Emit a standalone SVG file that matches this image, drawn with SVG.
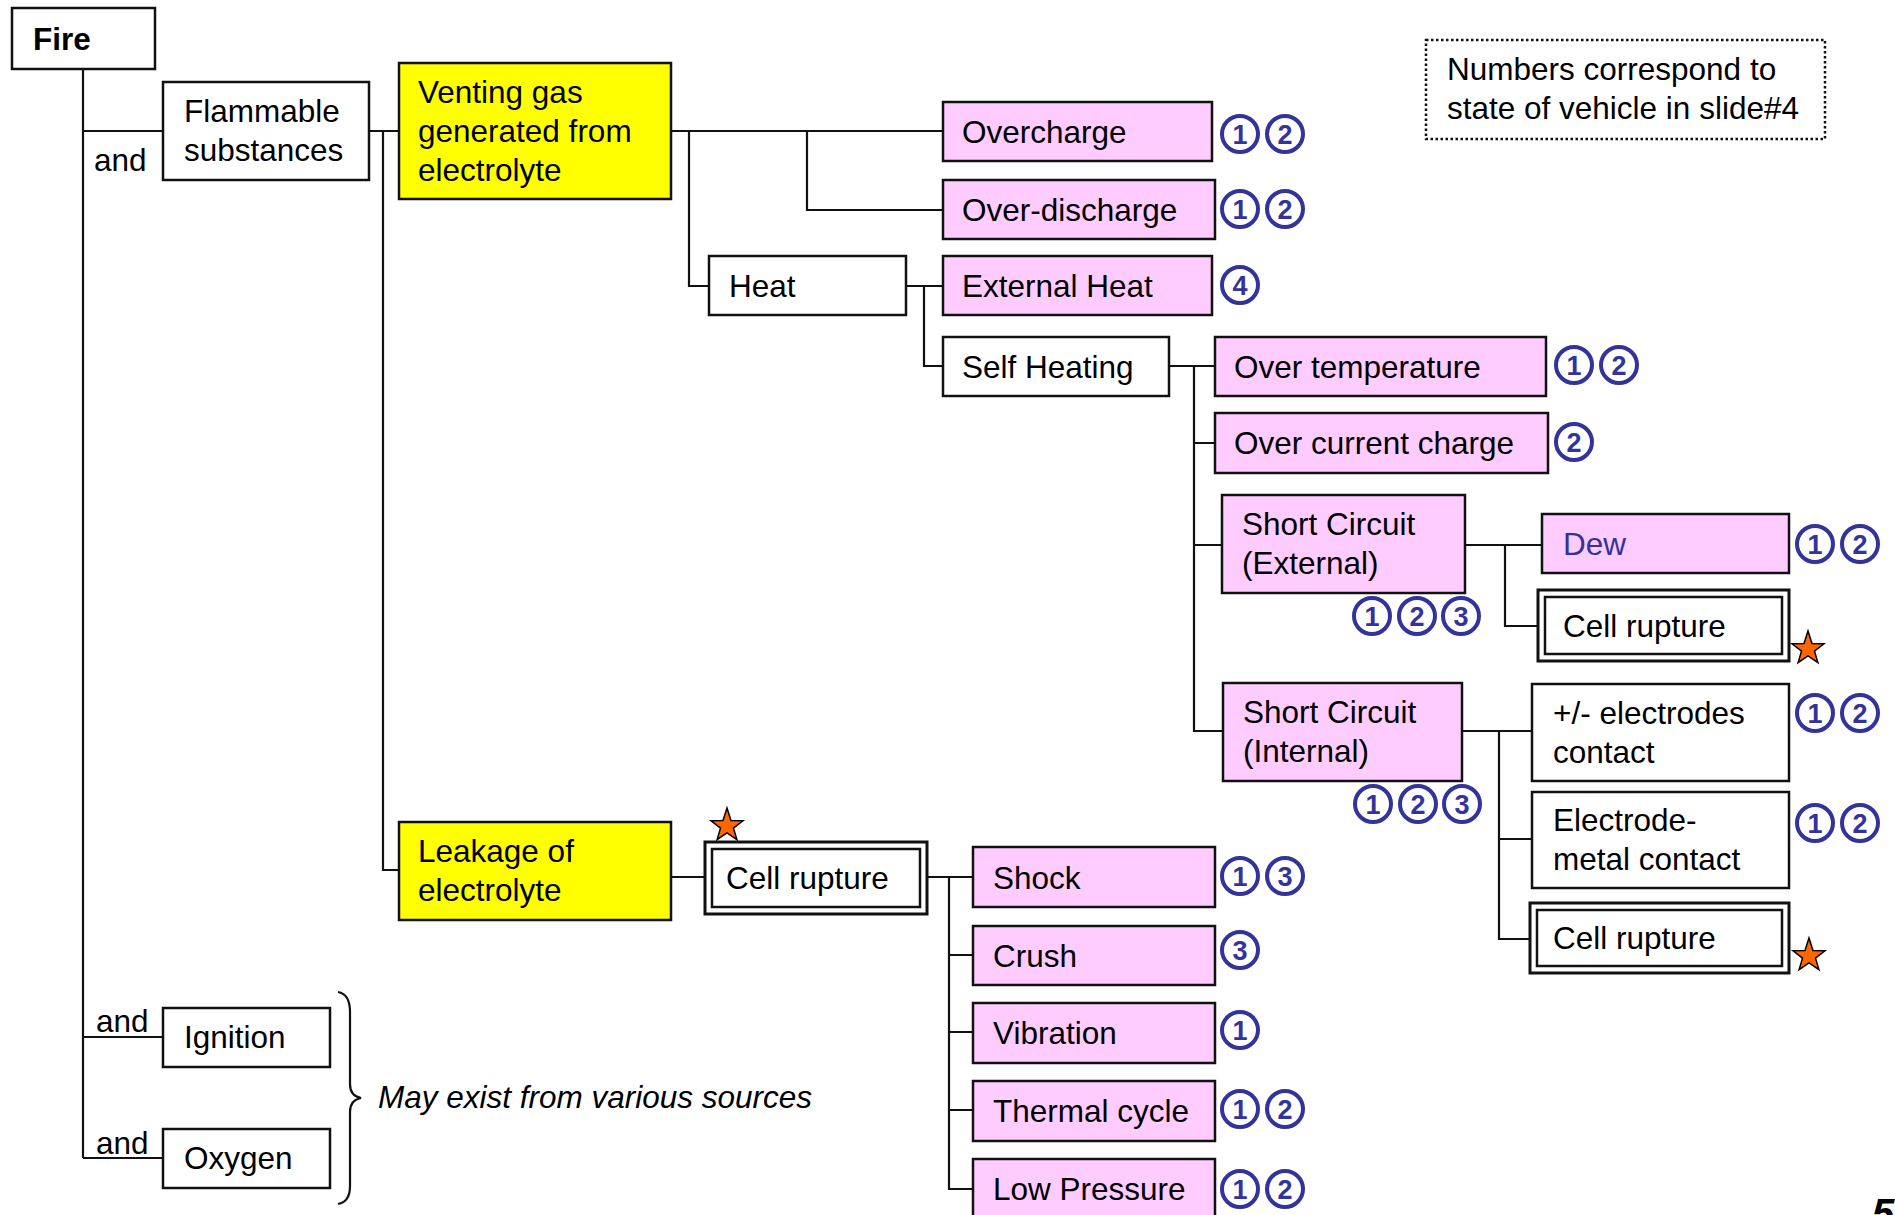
<svg xmlns="http://www.w3.org/2000/svg" xmlns:xlink="http://www.w3.org/1999/xlink" width="1895" height="1215" viewBox="0 0 1895 1215">
<style>
.box{stroke:#111;stroke-width:2.5}
.pink{fill:#FFCCFF}
.yel{fill:#FFFF00}
.wht{fill:#FFFFFF}
.t{font-family:"Liberation Sans",Arial,sans-serif;font-size:31.5px;fill:#000}
.b{font-weight:bold}
.i{font-style:italic}
.conn{stroke:#111;stroke-width:2.2;fill:none}
.cn circle{fill:#fff;stroke:#333399;stroke-width:4}
.cn text{font-family:"Liberation Sans",Arial,sans-serif;font-weight:bold;font-size:27px;fill:#333399;text-anchor:middle}
.star{fill:#FF6600;stroke:#000;stroke-width:1.5;stroke-linejoin:miter}
</style>
<defs>
<path id="star" d="M0,-18 L4,-5.5 L16,-5.2 L6.5,2.1 L9.9,13.6 L0,6.8 L-9.9,13.6 L-6.5,2.1 L-16,-5.2 L-4,-5.5 Z"/>
</defs>
<rect width="1895" height="1215" fill="#fff"/>

<g id="connectors">
<path class="conn" d="M83,69 V1158 M83,131 H163 M83,1037 H163 M83,1158 H163"/>
<path class="conn" d="M369,131 H399 M383,131 V870 H399"/>
<path class="conn" d="M671,131 H943 M689,131 V286 H709 M807,131 V210 H943"/>
<path class="conn" d="M906,286 H943 M924,286 V366 H943"/>
<path class="conn" d="M1169,366 H1215 M1194,366 V731 H1223 M1194,443 H1215 M1194,545 H1222"/>
<path class="conn" d="M1465,545 H1542 M1505,545 V626 H1538"/>
<path class="conn" d="M1462,731 H1532 M1499,731 V939 H1530 M1499,839 H1532"/>
<path class="conn" d="M671,877 H705 M927,877 H973 M949,877 V1189 H973 M949,955 H973 M949,1032 H973 M949,1110 H973"/>
<path class="conn" d="M338,992 Q350,994 350,1012 L350,1084 Q350,1096 361,1098 Q350,1100 350,1112 L350,1186 Q350,1202 338,1204"/>
</g>

<g id="fire"><rect class="box wht" x="12" y="8" width="143" height="61"/><text class="t b" x="33" y="50">Fire</text></g>
<text class="t" x="94" y="171">and</text>
<text class="t" x="96" y="1032">and</text>
<text class="t" x="96" y="1154">and</text>

<g id="flammable"><rect class="box wht" x="163" y="82" width="206" height="98"/><text class="t" x="184" y="122">Flammable</text><text class="t" x="184" y="161">substances</text></g>
<g id="venting"><rect class="box yel" x="399" y="63" width="272" height="136"/><text class="t" x="418" y="103">Venting gas</text><text class="t" x="418" y="142">generated from</text><text class="t" x="418" y="181">electrolyte</text></g>
<g id="leakage"><rect class="box yel" x="399" y="822" width="272" height="98"/><text class="t" x="418" y="862">Leakage of</text><text class="t" x="418" y="901">electrolyte</text></g>
<g id="ignition"><rect class="box wht" x="163" y="1008" width="167" height="59"/><text class="t" x="184" y="1048">Ignition</text></g>
<g id="oxygen"><rect class="box wht" x="163" y="1129" width="167" height="59"/><text class="t" x="184" y="1169">Oxygen</text></g>
<text class="t i" x="378" y="1108">May exist from various sources</text>

<g id="overcharge"><rect class="box pink" x="943" y="102" width="269" height="59"/><text class="t" x="962" y="143">Overcharge</text></g>
<g id="overdischarge"><rect class="box pink" x="943" y="180" width="272" height="59"/><text class="t" x="962" y="221">Over-discharge</text></g>
<g id="heat"><rect class="box wht" x="709" y="256" width="197" height="59"/><text class="t" x="729" y="297">Heat</text></g>
<g id="externalheat"><rect class="box pink" x="943" y="256" width="269" height="59"/><text class="t" x="962" y="297">External Heat</text></g>
<g id="selfheating"><rect class="box wht" x="943" y="337" width="226" height="59"/><text class="t" x="962" y="378">Self Heating</text></g>
<g id="overtemp"><rect class="box pink" x="1215" y="337" width="331" height="59"/><text class="t" x="1234" y="378">Over temperature</text></g>
<g id="overcurrent"><rect class="box pink" x="1215" y="413" width="333" height="60"/><text class="t" x="1234" y="454">Over current charge</text></g>
<g id="scext"><rect class="box pink" x="1222" y="495" width="243" height="98"/><text class="t" x="1242" y="535">Short Circuit</text><text class="t" x="1242" y="574">(External)</text></g>
<g id="scint"><rect class="box pink" x="1223" y="683" width="239" height="98"/><text class="t" x="1243" y="723">Short Circuit</text><text class="t" x="1243" y="762">(Internal)</text></g>
<g id="dew"><rect class="box pink" x="1542" y="514" width="247" height="59"/><text class="t" x="1563" y="555" style="fill:#333399">Dew</text></g>
<g id="cellrupture-ext"><rect class="box wht" x="1538" y="590" width="251" height="71" style="stroke-width:3"/><rect class="box" fill="none" x="1545" y="597" width="237" height="57"/><text class="t" x="1563" y="637">Cell rupture</text></g>
<g id="electrodes"><rect class="box wht" x="1532" y="684" width="257" height="97"/><text class="t" x="1553" y="724">+/- electrodes</text><text class="t" x="1553" y="763">contact</text></g>
<g id="electrodemetal"><rect class="box wht" x="1532" y="792" width="257" height="96"/><text class="t" x="1553" y="831">Electrode-</text><text class="t" x="1553" y="870">metal contact</text></g>
<g id="cellrupture-int"><rect class="box wht" x="1530" y="903" width="259" height="70" style="stroke-width:3"/><rect class="box" fill="none" x="1537" y="910" width="245" height="56"/><text class="t" x="1553" y="949">Cell rupture</text></g>
<g id="cellrupture-leak"><rect class="box wht" x="705" y="842" width="222" height="72" style="stroke-width:3"/><rect class="box" fill="none" x="712" y="849" width="208" height="58"/><text class="t" x="726" y="889">Cell rupture</text></g>
<g id="shock"><rect class="box pink" x="973" y="847" width="242" height="60"/><text class="t" x="993" y="889">Shock</text></g>
<g id="crush"><rect class="box pink" x="973" y="926" width="242" height="59"/><text class="t" x="993" y="967">Crush</text></g>
<g id="vibration"><rect class="box pink" x="973" y="1003" width="242" height="60"/><text class="t" x="993" y="1044">Vibration</text></g>
<g id="thermal"><rect class="box pink" x="973" y="1081" width="242" height="60"/><text class="t" x="993" y="1122">Thermal cycle</text></g>
<g id="lowpressure"><rect class="box pink" x="973" y="1159" width="242" height="70"/><text class="t" x="993" y="1200">Low Pressure</text></g>

<g id="note"><rect x="1426" y="40" width="399" height="99" fill="#fff" stroke="#111" stroke-width="2.5" stroke-dasharray="2.5,2.5"/><text class="t" x="1447" y="80">Numbers correspond to</text><text class="t" x="1447" y="119">state of vehicle in slide#4</text></g>

<g id="state-numbers" class="cn">
<circle cx="1240" cy="134" r="18"/><text x="1240" y="144">1</text><circle cx="1285" cy="134" r="18"/><text x="1285" y="144">2</text>
<circle cx="1240" cy="209" r="18"/><text x="1240" y="219">1</text><circle cx="1285" cy="209" r="18"/><text x="1285" y="219">2</text>
<circle cx="1240" cy="285" r="18"/><text x="1240" y="295">4</text>
<circle cx="1574" cy="365" r="18"/><text x="1574" y="375">1</text><circle cx="1619" cy="365" r="18"/><text x="1619" y="375">2</text>
<circle cx="1574" cy="442" r="18"/><text x="1574" y="452">2</text>
<circle cx="1372" cy="616" r="18"/><text x="1372" y="626">1</text><circle cx="1417" cy="616" r="18"/><text x="1417" y="626">2</text><circle cx="1461" cy="616" r="18"/><text x="1461" y="626">3</text>
<circle cx="1815" cy="544" r="18"/><text x="1815" y="554">1</text><circle cx="1860" cy="544" r="18"/><text x="1860" y="554">2</text>
<circle cx="1815" cy="713" r="18"/><text x="1815" y="723">1</text><circle cx="1860" cy="713" r="18"/><text x="1860" y="723">2</text>
<circle cx="1815" cy="823" r="18"/><text x="1815" y="833">1</text><circle cx="1860" cy="823" r="18"/><text x="1860" y="833">2</text>
<circle cx="1373" cy="804" r="18"/><text x="1373" y="814">1</text><circle cx="1418" cy="804" r="18"/><text x="1418" y="814">2</text><circle cx="1462" cy="804" r="18"/><text x="1462" y="814">3</text>
<circle cx="1240" cy="876" r="18"/><text x="1240" y="886">1</text><circle cx="1285" cy="876" r="18"/><text x="1285" y="886">3</text>
<circle cx="1240" cy="950" r="18"/><text x="1240" y="960">3</text>
<circle cx="1240" cy="1030" r="18"/><text x="1240" y="1040">1</text>
<circle cx="1240" cy="1109" r="18"/><text x="1240" y="1119">1</text><circle cx="1285" cy="1109" r="18"/><text x="1285" y="1119">2</text>
<circle cx="1240" cy="1189" r="18"/><text x="1240" y="1199">1</text><circle cx="1285" cy="1189" r="18"/><text x="1285" y="1199">2</text>
</g>

<g id="stars">
<use xlink:href="#star" class="star" x="727" y="826"/>
<use xlink:href="#star" class="star" x="1808" y="649"/>
<use xlink:href="#star" class="star" x="1809" y="956"/>
</g>

<text class="t b i" x="1872" y="1227" style="font-size:40px">5</text>
</svg>
